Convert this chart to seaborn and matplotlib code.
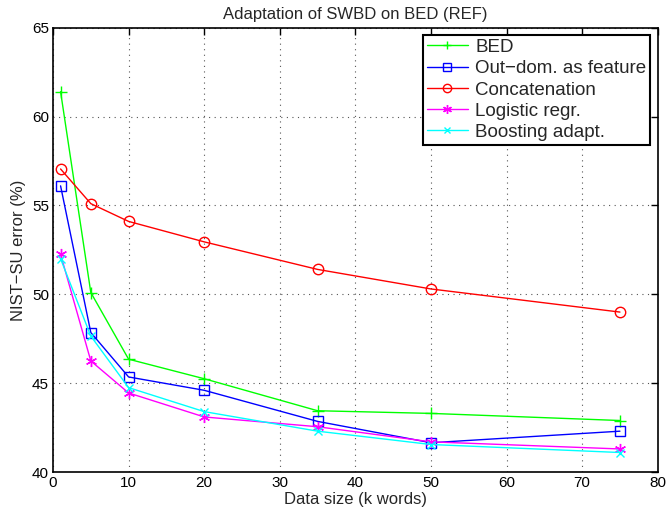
import pandas as pd
import seaborn as sns
import matplotlib.pyplot as plt

# data
sizes = [1, 5, 10, 20, 35, 50, 75]
bed = [61.4, 50.1, 46.35, 45.25, 43.45, 43.3, 42.9]
outdom = [56.1, 47.85, 45.35, 44.6, 42.85, 41.65, 42.3]
concat = [57.05, 55.1, 54.1, 52.95, 51.4, 50.3, 49.0]
logreg = [52.25, 46.25, 44.45, 43.1, 42.55, 41.7, 41.3]
boost = [52.0, 47.65, 44.75, 43.4, 42.3, 41.55, 41.1]

names = ["BED", "Out\u2212dom. as feature", "Concatenation", "Logistic regr.", "Boosting adapt."]
series = [bed, outdom, concat, logreg, boost]
colors = ["#00ff00", "#0000ff", "#ff0000", "#ff00ff", "#00ffff"]
markers = ["+", "s", "o", (6, 2, 0), "x"]
msizes = [8, 6.5, 7.5, 8, 6]


def main():
    sns.set_theme(style="white")
    plt.rcParams["font.family"] = ["Liberation Sans", "DejaVu Sans"]
    fig = plt.figure(figsize=(6.66, 5.12), dpi=100)
    ax = fig.add_axes([0.0796, 0.078, 0.908, 0.868])

    for name, vals, c, m, ms in zip(names, series, colors, markers, msizes):
        df = pd.DataFrame({"size": sizes, "err": vals})
        sns.lineplot(data=df, x="size", y="err", ax=ax, color=c, marker=m,
                     markersize=ms, markerfacecolor="none", markeredgecolor=c,
                     markeredgewidth=1.0, linewidth=1.0, label=name)

    ax.set_xlim(0, 80)
    ax.set_ylim(40, 65)
    ax.set_xticks(range(0, 81, 10))
    ax.set_yticks(range(40, 66, 5))
    ax.grid(True, linestyle=(0, (1, 4)), color="#555555", linewidth=0.8)
    ax.tick_params(direction="in", top=True, right=True, length=5, width=1,
                   labelsize=11, colors="black", pad=3)
    for s in ax.spines.values():
        s.set_color("black")
        s.set_linewidth(1.2)
    ax.set_xlabel("Data size (k words)", fontsize=12, labelpad=1)
    ax.set_ylabel("NIST\u2212SU error (%)", fontsize=12, labelpad=4)
    ax.set_title("Adaptation of SWBD on BED (REF)", fontsize=12, pad=6)
    leg = ax.legend(loc="upper right", fontsize=13.5, frameon=True, fancybox=False,
                    borderaxespad=0.4, handlelength=2.2, labelspacing=0.22,
                    borderpad=0.2, handletextpad=0.4, markerscale=0.8)
    leg.get_frame().set_edgecolor("black")
    leg.get_frame().set_linewidth(1.5)
    leg.get_frame().set_alpha(1)
    fig.savefig("out.png")


if __name__ == "__main__":
    main()
